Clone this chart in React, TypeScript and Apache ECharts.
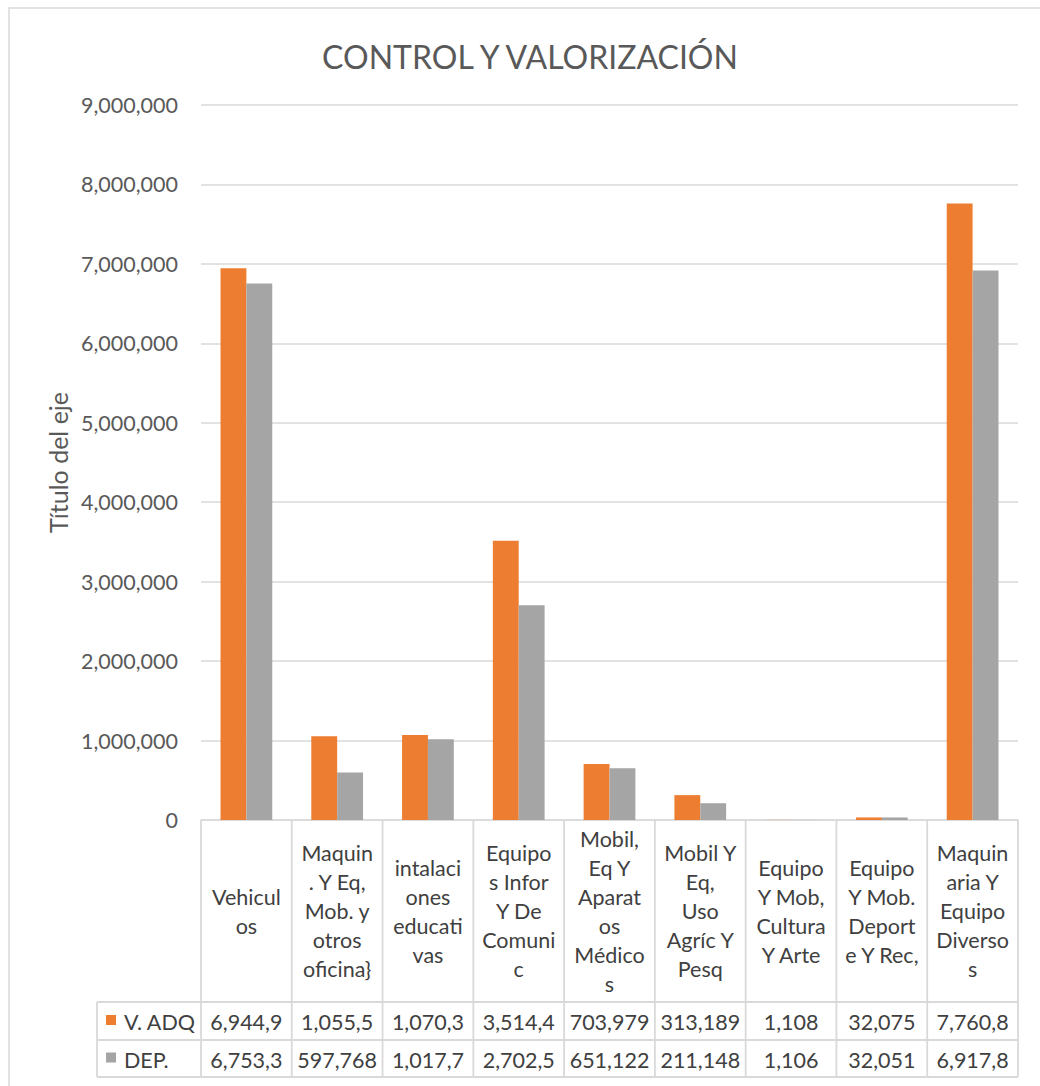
import React, { useEffect, useRef } from "react";
import * as echarts from "echarts";

// ---- data ----
const categories = [
  "Vehicul\nos",
  "Maquin\n. Y Eq,\nMob. y\notros\noficina}",
  "intalaci\nones\neducati\nvas",
  "Equipo\ns Infor\nY De\nComuni\nc",
  "Mobil,\nEq Y\nAparat\nos\nMédico\ns",
  "Mobil Y\nEq,\nUso\nAgríc Y\nPesq",
  "Equipo\nY Mob,\nCultura\nY Arte",
  "Equipo\nY Mob.\nDeport\ne Y Rec,",
  "Maquin\naria Y\nEquipo\nDiverso\ns",
];
const seriesNames = ["V. ADQ", "DEP."];
const vAdq = [6944900, 1055500, 1070300, 3514400, 703979, 313189, 1108, 32075, 7760800];
const dep = [6753300, 597768, 1017700, 2702500, 651122, 211148, 1106, 32051, 6917800];
const yMin = 0;
const yMax = 9000000;
const yInterval = 1000000;
const titleText = "CONTROL Y VALORIZACIÓN";
const yAxisTitle = "Título del eje";
const colors = ["#ED7D31", "#A5A5A5"];

const FONT = "Lato";
const FS = 21.5;
const W = 1040;
const H = 1086;
const GRID = { left: 201, right: 22, top: 105, bottom: 266 };
const ZERO_Y = H - GRID.bottom; // 820
const ROW1_TOP = 1002;
const ROW2_TOP = 1040;
const TABLE_BOTTOM = 1077;
const TABLE_LEFT = 97;
const LINE = "#d9d9d9";

const cellText = (v: number) => v.toLocaleString("en-US").slice(0, 7);

export default function App() {
  const ref = useRef<HTMLDivElement>(null);
  useEffect(() => {
    document.body.style.margin = "0";
    document.body.style.overflow = "hidden";
    const chart = echarts.init(ref.current!, null, { renderer: "svg" });
    chart.setOption({
      animation: false,
      backgroundColor: "#ffffff",
      grid: { ...GRID, containLabel: false },
      xAxis: {
        type: "category",
        data: categories,
        axisLine: { show: true, lineStyle: { color: LINE, width: 1.5 } },
        axisTick: { show: false },
        axisLabel: {
          interval: 0,
          margin: (ROW1_TOP - ZERO_Y) / 2,
          verticalAlign: "middle",
          color: "#404040",
          fontSize: FS,
          lineHeight: 29,
          fontFamily: FONT,
        },
      },
      yAxis: {
        type: "value",
        min: yMin,
        max: yMax,
        interval: yInterval,
        name: yAxisTitle,
        nameLocation: "middle",
        nameRotate: 90,
        nameGap: 129,
        nameTextStyle: { color: "#595959", fontSize: 25, fontFamily: FONT },
        axisLine: { show: false },
        axisTick: { show: false },
        splitLine: { lineStyle: { color: LINE, width: 1.5 } },
        axisLabel: {
          margin: 23,
          color: "#595959",
          fontSize: FS,
          fontFamily: FONT,
          formatter: (v: number) => v.toLocaleString("en-US"),
        },
      },
      series: [
        {
          name: seriesNames[0],
          type: "bar",
          data: vAdq,
          itemStyle: { color: colors[0] },
          barGap: "0%",
          barCategoryGap: "43%",
        },
        {
          name: seriesNames[1],
          type: "bar",
          data: dep,
          itemStyle: { color: colors[1] },
          barGap: "0%",
          barCategoryGap: "43%",
        },
      ],
    });

    const cx = categories.map((_, i) => chart.convertToPixel({ xAxisIndex: 0 }, i) as number);
    const band = cx.length > 1 ? cx[1] - cx[0] : 90;
    const firstEdge = cx[0] - band / 2;
    const lastEdge = cx[cx.length - 1] + band / 2;
    const els: any[] = [];
    // outer chart frame
    els.push({
      type: "rect",
      shape: { x: 9, y: 8, width: 1200, height: 1200 },
      style: { fill: "none", stroke: LINE, lineWidth: 1.5 },
      silent: true,
    });
    els.push({
      type: "text",
      x: 530,
      y: 56,
      style: {
        text: titleText,
        fontSize: 32,
        fontFamily: FONT,
        fill: "#595959",
        textAlign: "center",
        align: "center",
        textVerticalAlign: "middle",
        verticalAlign: "middle",
      },
    });
    // vertical table lines
    for (let k = 0; k <= categories.length; k++) {
      const x = firstEdge + k * band;
      els.push({
        type: "line",
        shape: { x1: x, y1: ZERO_Y, x2: x, y2: TABLE_BOTTOM },
        style: { stroke: LINE, lineWidth: 1.8 },
        silent: true,
      });
    }
    els.push({
      type: "line",
      shape: { x1: TABLE_LEFT, y1: ROW1_TOP, x2: TABLE_LEFT, y2: TABLE_BOTTOM },
      style: { stroke: LINE, lineWidth: 1.8 },
      silent: true,
    });
    [ROW1_TOP, ROW2_TOP, TABLE_BOTTOM].forEach((y) =>
      els.push({
        type: "line",
        shape: { x1: TABLE_LEFT, y1: y, x2: lastEdge, y2: y },
        style: { stroke: LINE, lineWidth: 1.8 },
        silent: true,
      })
    );
    const rows = [vAdq, dep];
    const rowTops = [ROW1_TOP, ROW2_TOP];
    const rowBottoms = [ROW2_TOP, TABLE_BOTTOM];
    rows.forEach((vals, r) => {
      const yc = (rowTops[r] + rowBottoms[r]) / 2 + 1;
      els.push({
        type: "rect",
        shape: { x: 106, y: yc - 7, width: 10, height: 10 },
        style: { fill: colors[r] },
        silent: true,
      });
      els.push({
        type: "text",
        x: 124,
        y: yc,
        style: {
          text: seriesNames[r],
          fontSize: FS,
          fontFamily: FONT,
          fill: "#404040",
          textAlign: "left",
          align: "left",
          textVerticalAlign: "middle",
          verticalAlign: "middle",
        },
      });
      vals.forEach((v, i) => {
        els.push({
          type: "text",
          x: cx[i],
          y: yc,
          style: {
            text: cellText(v),
            fontSize: FS,
            fontFamily: FONT,
            fill: "#404040",
            textAlign: "center",
            align: "center",
            textVerticalAlign: "middle",
            verticalAlign: "middle",
          },
        });
      });
    });
    chart.setOption({ graphic: { elements: els } });
    return () => chart.dispose();
  }, []);
  return <div ref={ref} style={{ width: W, height: H }} />;
}
